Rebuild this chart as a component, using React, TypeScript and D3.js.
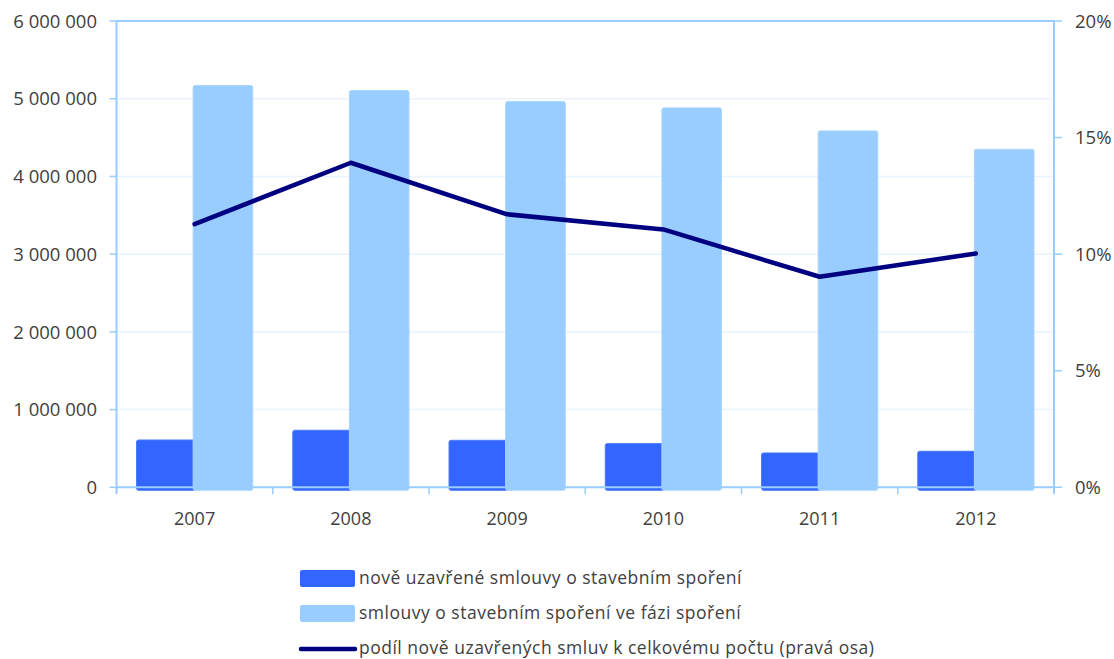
import React from "react";
import * as d3 from "d3";

// Building savings contracts, 2007–2012
const years = ["2007", "2008", "2009", "2010", "2011", "2012"];
const newContracts = [609000, 734000, 605000, 562000, 442000, 464000];
const savingPhaseContracts = [5170000, 5105000, 4963000, 4882000, 4586000, 4349000];
const shareOfNew = [11.29, 13.92, 11.71, 11.06, 9.03, 10.03];

const leftTicks = [0, 1000000, 2000000, 3000000, 4000000, 5000000, 6000000];
const rightTicks = [0, 5, 10, 15, 20];

const legendItems = [
  { label: "nově uzavřené smlouvy o stavebním spoření", kind: "bar", color: "#3366FF" },
  { label: "smlouvy o stavebním spoření ve fázi spoření", kind: "bar", color: "#99CCFF" },
  { label: "podíl nově uzavřených smluv k celkovému počtu (pravá osa)", kind: "line", color: "#000080" },
];

const W = 1114;
const H = 659;
const plot = { left: 116.5, right: 1054, top: 21, bottom: 487.3 };
const axisColor = "#99CCFF";
const gridColor = "#EAF4FF";
const textColor = "#404040";
const font = "'Open Sans', sans-serif";

const fmtSpace = (v: number) => d3.format(",")(v).replace(/,/g, " ");

export default function App() {
  const x = d3.scaleBand<string>().domain(years).range([plot.left, plot.right]);
  const y = d3.scaleLinear().domain([0, 6000000]).range([plot.bottom, plot.top]);
  const yR = d3.scaleLinear().domain([0, 20]).range([plot.bottom, plot.top]);
  const barW = x.bandwidth() * 0.372;
  const center = (c: string) => (x(c) as number) + x.bandwidth() / 2;

  const line = d3
    .line<number>()
    .x((_, i) => center(years[i]))
    .y((d) => yR(d));

  const boundaries = [...years.map((c) => x(c) as number), plot.right];
  const legendRows = [578.5, 613.5, 648];

  return (
    <svg
      width={W}
      height={H}
      style={{ position: "absolute", left: 0, top: 0, background: "#fff" }}
      fontFamily={font}
    >
      {/* horizontal gridlines */}
      {leftTicks.slice(1, -1).map((t) => (
        <line key={t} x1={plot.left} x2={plot.right} y1={y(t)} y2={y(t)} stroke={gridColor} strokeWidth={1.5} />
      ))}

      {/* bars */}
      {years.map((c, i) => {
        const cx = center(c);
        const y0 = y(0) + 3;
        return (
          <g key={c}>
            <rect
              x={cx - barW}
              y={y(newContracts[i])}
              width={barW + 1}
              height={y0 - y(newContracts[i])}
              rx={2}
              fill="#3366FF"
              stroke="#4C7BFF"
              strokeWidth={1}
            />
            <rect
              x={cx - 1.5}
              y={y(savingPhaseContracts[i])}
              width={barW + 1.5}
              height={y0 - y(savingPhaseContracts[i])}
              rx={2}
              fill="#99CCFF"
              stroke="#A9D5FF"
              strokeWidth={1}
            />
          </g>
        );
      })}

      {/* frame and axes */}
      <line x1={plot.left} x2={plot.right} y1={plot.top} y2={plot.top} stroke={axisColor} strokeWidth={2} />
      <line x1={plot.left} x2={plot.left} y1={plot.top} y2={plot.bottom + 6} stroke={axisColor} strokeWidth={2} />
      <line x1={plot.right} x2={plot.right} y1={plot.top} y2={plot.bottom + 6} stroke={axisColor} strokeWidth={2} />
      <line x1={plot.left} x2={plot.right} y1={plot.bottom} y2={plot.bottom} stroke={axisColor} strokeWidth={2} />

      {/* left axis ticks and labels */}
      {leftTicks.map((t) => (
        <g key={t}>
          <line x1={plot.left - 7} x2={plot.left} y1={y(t)} y2={y(t)} stroke={axisColor} strokeWidth={1.5} />
          <text x={97} y={y(t)} dy="0.36em" textAnchor="end" fontSize={18.5} fill={textColor}>
            {fmtSpace(t)}
          </text>
        </g>
      ))}

      {/* right axis ticks and labels */}
      {rightTicks.map((t) => (
        <g key={t}>
          <line x1={plot.right} x2={plot.right + 8} y1={yR(t)} y2={yR(t)} stroke={axisColor} strokeWidth={1.5} />
          <text x={1075} y={yR(t)} dy="0.36em" textAnchor="start" fontSize={18.5} fill={textColor}>
            {t}%
          </text>
        </g>
      ))}

      {/* category ticks and labels */}
      {boundaries.map((b, i) => (
        <line key={i} x1={b} x2={b} y1={plot.bottom} y2={plot.bottom + 7} stroke={axisColor} strokeWidth={1.5} />
      ))}
      {years.map((c) => (
        <text key={c} x={center(c)} y={519} dy="0.36em" textAnchor="middle" fontSize={18} fill={textColor}>
          {c}
        </text>
      ))}

      {/* share of new contracts */}
      <path
        d={line(shareOfNew) as string}
        fill="none"
        stroke="#000080"
        strokeWidth={4.5}
        strokeLinejoin="round"
        strokeLinecap="round"
      />

      {/* legend */}
      {legendItems.map((item, i) => {
        const cy = legendRows[i];
        return (
          <g key={item.label}>
            {item.kind === "bar" ? (
              <rect x={300} y={cy - 8.5} width={55} height={17} rx={2} fill={item.color} />
            ) : (
              <line x1={301} x2={355} y1={cy + 1} y2={cy + 1} stroke={item.color} strokeWidth={4.5} strokeLinecap="round" />
            )}
            <text x={359} y={cy} dy="0.33em" fontSize={17.5} letterSpacing={0.5} fill={textColor}>
              {item.label}
            </text>
          </g>
        );
      })}
    </svg>
  );
}
